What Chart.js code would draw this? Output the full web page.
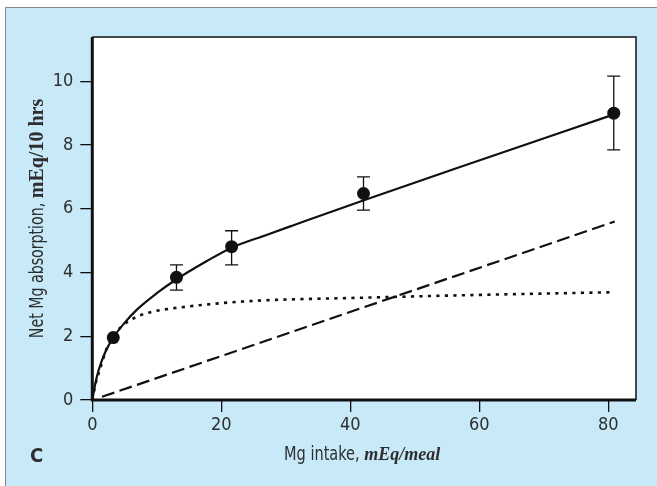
<!DOCTYPE html>
<html>
<head>
<meta charset="utf-8">
<script src="https://cdn.jsdelivr.net/npm/chart.js@4/dist/chart.umd.min.js"></script>
<style>
  html, body { margin: 0; padding: 0; background: #fff; }
  #wrap { position: relative; width: 657px; height: 486px; overflow: hidden; }
  #panel {
    position: absolute; left: 5px; top: 7px; right: 0; bottom: 0;
    background: #c7e9f8;
    border-left: 1px solid #8a8a8a;
    border-top: 1px solid #8a8a8a;
  }
  #chart { position: absolute; left: 0; top: 0; }
</style>
</head>
<body>
<div id="wrap">
  <div id="panel"></div>
  <canvas id="chart" width="657" height="486"></canvas>
</div>
<script>
// axis ticks
const xTicks = [0, 20, 40, 60, 80];
const yTicks = [0, 2, 4, 6, 8, 10];

// measured means (filled circles) with error bar limits
const meanIntake = [3.25, 13.05, 21.6, 42.05, 80.85];
const meanAbsorb = [1.96, 3.85, 4.81, 6.48, 9.0];
const errLow = [null, 3.45, 4.24, 5.96, 7.85];
const errHigh = [null, 4.24, 5.31, 7.0, 10.16];

// total absorption curve (solid)
const totalX = [0, 0.5, 1, 2, 3.25, 5, 7, 10, 13, 17.5, 21.6, 27, 31, 42, 56, 81];
const totalY = [0, 0.55, 0.95, 1.5, 1.96, 2.42, 2.85, 3.35, 3.78, 4.33, 4.78, 5.18, 5.47, 6.26, 7.24, 8.97];

// saturable component (dotted)
const satX = [0, 0.5, 1.2, 2.2, 3.25, 4.5, 7, 10, 12.3, 16, 20, 27, 40, 56, 80.5];
const satY = [0, 0.5, 0.97, 1.6, 2.0, 2.3, 2.62, 2.8, 2.87, 2.96, 3.04, 3.13, 3.2, 3.28, 3.38];

// linear component (dashed)
const linX = [1.5, 81];
const linY = [0.1, 5.6];

const INK = '#111';
const TXT = '#2e2e2e';
const SANS = '"DejaVu Sans Condensed", "DejaVu Sans", sans-serif';
const SERIF = '"Liberation Serif", "DejaVu Serif", serif';

const pts = (xs, ys) => xs.map((x, i) => ({ x: x, y: ys[i] }));

// draws text runs in different fonts one after another, centred on cx
function drawMixed(ctx, parts, cx, baseY) {
    let total = 0;
    parts.forEach(p => {
        ctx.font = p.font;
        p.sx = p.sx || 1;
        p.w = ctx.measureText(p.text).width * p.sx;
        total += p.w;
    });
    let x = cx - total / 2;
    ctx.textAlign = 'left';
    ctx.textBaseline = 'alphabetic';
    parts.forEach(p => {
        ctx.save();
        ctx.font = p.font;
        ctx.translate(x, baseY);
        ctx.scale(p.sx, 1);
        ctx.fillText(p.text, 0, 0);
        ctx.restore();
        x += p.w;
    });
}

const framePlugin = {
    id: 'frame',
    beforeDraw(chart) {
        const { ctx, chartArea: a } = chart;
        ctx.save();
        ctx.fillStyle = '#fff';
        ctx.fillRect(a.left, a.top, a.right - a.left, a.bottom - a.top);
        ctx.restore();
    },
    beforeDatasetsDraw(chart) {
        const { ctx, chartArea: a } = chart;
        ctx.save();
        ctx.strokeStyle = INK;
        ctx.lineWidth = 1.5;
        ctx.beginPath();
        ctx.moveTo(a.left, a.top);
        ctx.lineTo(a.right, a.top);
        ctx.lineTo(a.right, a.bottom);
        ctx.stroke();
        ctx.lineWidth = 3;
        ctx.beginPath();
        ctx.moveTo(a.left, a.top);
        ctx.lineTo(a.left, a.bottom);
        ctx.lineTo(a.right, a.bottom);
        ctx.stroke();
        ctx.restore();
    },
    afterDatasetsDraw(chart) {
        const { ctx, scales: { x, y } } = chart;
        ctx.save();
        ctx.strokeStyle = INK;
        ctx.lineWidth = 1.3;
        meanIntake.forEach((v, i) => {
            if (errLow[i] == null) return;
            const px = x.getPixelForValue(v);
            const lo = y.getPixelForValue(errLow[i]);
            const hi = y.getPixelForValue(errHigh[i]);
            ctx.beginPath();
            ctx.moveTo(px, lo); ctx.lineTo(px, hi);
            ctx.moveTo(px - 6.5, lo); ctx.lineTo(px + 6.5, lo);
            ctx.moveTo(px - 6.5, hi); ctx.lineTo(px + 6.5, hi);
            ctx.stroke();
        });
        ctx.restore();
    },
    afterDraw(chart) {
        const { ctx, chartArea: a } = chart;
        ctx.save();
        ctx.fillStyle = TXT;
        // x title
        drawMixed(ctx, [
            { text: 'Mg intake, ', font: '19px ' + SANS, sx: 0.85 },
            { text: 'mEq/meal', font: 'italic bold 18px ' + SERIF }
        ], (a.left + a.right) / 2 - 2, 460);
        // y title
        ctx.save();
        ctx.translate(43, (a.top + a.bottom) / 2);
        ctx.rotate(-Math.PI / 2);
        drawMixed(ctx, [
            { text: 'Net Mg absorption, ', font: '19px ' + SANS, sx: 0.83 },
            { text: 'mEq/10 hrs', font: 'bold 20px ' + SERIF }
        ], 0, 0);
        ctx.restore();
        // panel letter
        ctx.font = 'bold 20px ' + SANS;
        ctx.textAlign = 'left';
        ctx.fillText('C', 30, 462);
        ctx.restore();
    }
};

new Chart(document.getElementById('chart'), {
    type: 'line',
    data: {
        datasets: [
            {
                data: pts(meanIntake, meanAbsorb),
                showLine: false,
                pointRadius: 6.5,
                pointBackgroundColor: INK,
                pointBorderColor: INK,
                pointBorderWidth: 0
            },
            {
                data: pts(totalX, totalY),
                borderColor: INK,
                borderWidth: 2.2,
                pointRadius: 0,
                cubicInterpolationMode: 'monotone'
            },
            {
                data: pts(satX, satY),
                borderColor: INK,
                borderWidth: 2.6,
                borderDash: [3.2, 5.3],
                pointRadius: 0,
                cubicInterpolationMode: 'monotone'
            },
            {
                data: pts(linX, linY),
                borderColor: INK,
                borderWidth: 2.2,
                borderDash: [13, 5.5],
                pointRadius: 0
            }
        ]
    },
    options: {
        responsive: false,
        animation: false,
        devicePixelRatio: 1,
        layout: { padding: { left: 30.3, top: 37, right: 21, bottom: 0 } },
        plugins: { legend: { display: false }, tooltip: { enabled: false } },
        scales: {
            x: {
                type: 'linear',
                min: 0,
                max: 84.3,
                afterFit(s) { s.height = 86; },
                afterBuildTicks(s) { s.ticks = xTicks.map(v => ({ value: v })); },
                border: { display: false },
                grid: { drawOnChartArea: false, drawTicks: true, tickLength: 12, color: INK, lineWidth: 1.3 },
                ticks: { color: TXT, padding: 3, font: { family: SANS, size: 18 }, maxRotation: 0 }
            },
            y: {
                type: 'linear',
                min: 0,
                max: 11.39,
                afterFit(s) { s.width = 62; },
                afterBuildTicks(s) { s.ticks = yTicks.map(v => ({ value: v })); },
                border: { display: false },
                grid: { drawOnChartArea: false, drawTicks: true, tickLength: 12, color: INK, lineWidth: 1.3 },
                ticks: { color: TXT, padding: 7, font: { family: SANS, size: 18 } }
            }
        }
    },
    plugins: [framePlugin]
});
</script>
</body>
</html>
